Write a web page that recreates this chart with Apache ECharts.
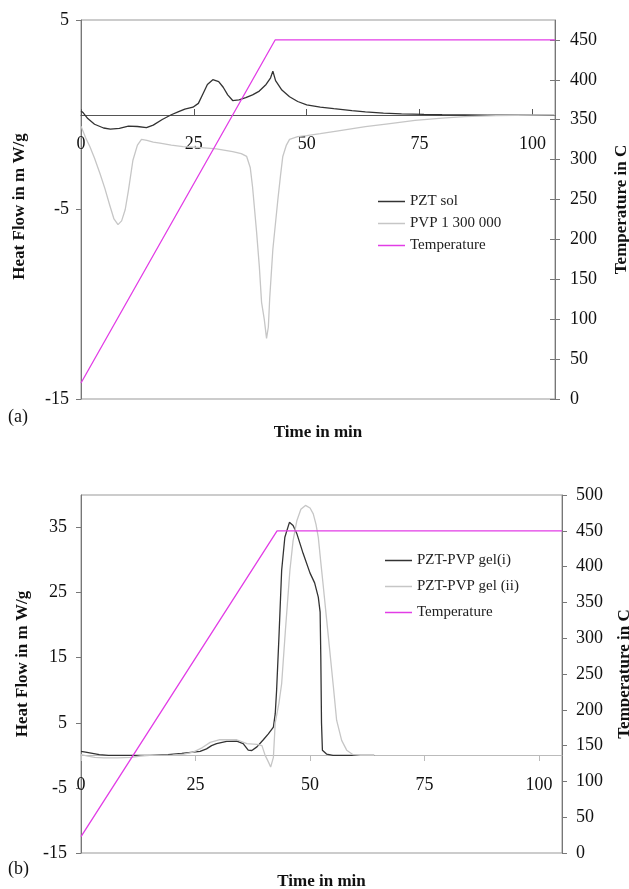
<!DOCTYPE html>
<html>
<head>
<meta charset="utf-8">
<script src="https://cdn.jsdelivr.net/npm/echarts@6/dist/echarts.min.js"></script>
<style>
  html, body { margin: 0; padding: 0; background: #fff; }
  #chart { width: 629px; height: 889px; }
</style>
</head>
<body>
<div id="chart"></div>
<script>
// x ticks shared by both panels
const timeTicks = [0, 25, 50, 75, 100];
const flowTicksA = [-15, -5, 5];
const flowTicksB = [-15, -5, 5, 15, 25, 35];
const tempTicksA = [0, 50, 100, 150, 200, 250, 300, 350, 400, 450];
const tempTicksB = [0, 50, 100, 150, 200, 250, 300, 350, 400, 450, 500];

// (a) [time in min, heat flow mW/g]
const pztSol = [
  [0, 0.2], [0.5, 0.1], [1.5, -0.2], [3, -0.5], [5, -0.7], [6.5, -0.76], [8.5, -0.72],
  [10.5, -0.6], [12.5, -0.62], [14.5, -0.68], [16, -0.55], [18, -0.25], [20, 0], [21.5, 0.15],
  [23, 0.3], [24.8, 0.4], [26, 0.6], [27, 1.1], [28, 1.6], [29.2, 1.85], [30.5, 1.75],
  [31.5, 1.45], [32.5, 1.05], [33.6, 0.75], [35, 0.78], [36.5, 0.9], [38, 1.05], [39.5, 1.25],
  [41, 1.6], [42, 1.95], [42.5, 2.3], [43.1, 1.8], [44.5, 1.3], [46.2, 0.95], [48, 0.7],
  [50, 0.52], [53, 0.4], [56, 0.32], [60, 0.22], [63, 0.15], [67, 0.09], [71, 0.05],
  [76, 0.02], [80, 0], [90, -0.02], [105, -0.02]
];
const pvp = [
  [0, -0.6], [1, -1.2], [2, -1.7], [3, -2.3], [4.2, -3.1], [5.3, -3.9], [6.4, -4.8], [7.3, -5.5],
  [8.2, -5.8], [9, -5.6], [9.8, -5.0], [10.5, -4.0], [11.5, -2.4], [12.5, -1.6], [13.4, -1.3],
  [14.6, -1.35], [16, -1.45], [17.5, -1.5], [20, -1.6], [22.6, -1.68], [26, -1.72], [30, -1.8],
  [33.6, -1.95], [35.5, -2.05], [36.7, -2.2], [37.5, -2.8], [38, -3.8], [38.9, -6.2], [39.5, -8],
  [40, -9.9], [40.6, -10.8], [41.1, -11.8], [41.5, -11.2], [41.8, -9.7], [42.5, -7.1],
  [43.6, -4.5], [44.2, -3.2], [44.7, -2.2], [45.5, -1.6], [46.2, -1.3], [48, -1.15], [50, -1.1],
  [53, -1.0], [57, -0.85], [63, -0.63], [68, -0.48], [74, -0.3], [80, -0.18], [85, -0.1],
  [92, -0.05], [105, 0]
];
// [time in min, temperature in C]
const tempA = [[0, 20], [43, 450], [105, 450]];

// (b)
const gel1 = [
  [0, 0.6], [1, 0.5], [2.5, 0.3], [4, 0.1], [6, 0], [10, 0], [15, 0], [19, 0.1], [22, 0.3],
  [24.5, 0.5], [26, 0.6], [27.4, 1.0], [28.5, 1.5], [29.6, 1.8], [31.8, 2.15], [34, 2.2],
  [35.4, 1.8], [36.5, 0.8], [37.3, 0.75], [38.4, 1.3], [39.8, 2.4], [40.9, 3.3], [42, 4.35],
  [42.4, 6.4], [42.7, 10], [43.2, 18], [43.8, 28.4], [44.5, 33.5], [45.5, 35.8], [46.3, 35.3],
  [47.1, 34.1], [48.5, 31], [50, 28], [51, 26.5], [51.8, 24.3], [52.2, 22], [52.35, 15],
  [52.5, 5], [52.7, 0.8], [53.6, 0.2], [55, 0], [64, 0]
];
const gel2 = [
  [0, 0.1], [1.5, -0.1], [3, -0.3], [5, -0.38], [8, -0.38], [11, -0.3], [13, -0.1], [15, 0],
  [20, 0.05], [22.5, 0.2], [24.5, 0.5], [26.5, 1.2], [28.2, 2.0], [30.3, 2.4], [34, 2.4],
  [36.2, 1.8], [38.4, 1.7], [39.5, 1.5], [40.2, 0], [40.9, -1.0], [41.4, -1.8], [42, -0.3],
  [42.4, 5], [43.2, 8], [43.8, 11], [44.6, 19], [45.6, 28.4], [46.3, 33], [47.1, 36], [48, 37.8],
  [49, 38.4], [50, 38], [50.7, 37.1], [51.3, 35.5], [51.8, 33.5], [52.3, 30], [52.9, 25.9],
  [54, 18.2], [55.1, 10.5], [55.8, 5.4], [56.9, 2.3], [58, 0.8], [59.4, 0.1], [61, 0], [64, 0]
];
const tempB = [[0, 23], [42.8, 450], [105, 450]];

const FONT = "Liberation Serif";
const DARK = "#333333";
const LIGHT = "#c6c6c6";
const MAGENTA = "#e23de6";

const tickLabel = { fontFamily: FONT, fontSize: 18, color: "#111" };
const axisName = { fontFamily: FONT, fontSize: 17, fontWeight: "bold", color: "#111" };

// x axis sits on the heat-flow zero line: shifted up from the grid bottom by offset
const xAxisCfg = (gridIndex, offset, lineColor, tickInside, gap, margin) => ({
  type: "value",
  gridIndex,
  min: 0,
  max: 105,
  offset,
  name: "Time in min",
  nameLocation: "middle",
  nameGap: gap,
  nameTextStyle: axisName,
  axisLine: { onZero: false, lineStyle: { color: lineColor, width: 1.2 } },
  axisTick: { inside: tickInside, length: 6, customValues: timeTicks, lineStyle: { color: lineColor } },
  axisLabel: { ...tickLabel, margin, customValues: timeTicks },
  splitLine: { show: false }
});

const line = (name, data, color, xi, yi) => ({
  name,
  type: "line",
  data,
  xAxisIndex: xi,
  yAxisIndex: yi,
  symbol: "none",
  lineStyle: { color, width: 1.3 },
  itemStyle: { color }
});

const legendCfg = (data, left, top, gap) => ({
  data,
  orient: "vertical", left, top, padding: 0, itemGap: gap,
  icon: "rect", itemWidth: 27, itemHeight: 1.5,
  textStyle: { fontFamily: FONT, fontSize: 15, color: "#222" }
});

const chart = echarts.init(document.getElementById("chart"));
chart.setOption({
  animation: false,
  backgroundColor: "#fff",
  grid: [
    { left: 81, top: 20, right: 74, bottom: 490, outerBoundsMode: "none", show: true, borderColor: "#999", borderWidth: 1 },
    { left: 81, top: 495, right: 67, bottom: 36, outerBoundsMode: "none", show: true, borderColor: "#999", borderWidth: 1 }
  ],
  legend: [
    legendCfg(["PZT sol", "PVP 1 300 000", "Temperature"], 378, 194, 7),
    legendCfg(["PZT-PVP gel(i)", "PZT-PVP gel (ii)", "Temperature"], 385, 553, 11)
  ],
  graphic: [
    { type: "text", left: 8, top: 408, style: { text: "(a)", font: "18px " + FONT, fill: "#111" } },
    { type: "text", left: 8, top: 860, style: { text: "(b)", font: "18px " + FONT, fill: "#111" } }
  ],
  xAxis: [
    xAxisCfg(0, -284, "#555", true, 309, 20),
    xAxisCfg(1, -98, "#bbb", false, 118, 21)
  ],
  yAxis: [
    { // (a) heat flow
      type: "value", gridIndex: 0, position: "left", min: -15, max: 5,
      name: "Heat Flow in m W/g", nameLocation: "middle", nameRotate: 90, nameGap: 53,
      nameTextStyle: { ...axisName, padding: [0, 0, 0, 6] },
      axisLine: { show: true, lineStyle: { color: "#777" } },
      axisTick: { show: true, length: 5, customValues: flowTicksA, lineStyle: { color: "#777" } },
      axisLabel: { ...tickLabel, margin: 12, customValues: flowTicksA },
      splitLine: { show: false }
    },
    { // (a) temperature
      type: "value", gridIndex: 0, position: "right", min: 0, max: 475,
      name: "Temperature in C", nameLocation: "middle", nameRotate: 90, nameGap: 58,
      nameTextStyle: axisName,
      axisLine: { show: true, lineStyle: { color: "#777" } },
      axisTick: { show: true, length: 5, customValues: tempTicksA, lineStyle: { color: "#777" } },
      axisLabel: { ...tickLabel, margin: 15, customValues: tempTicksA },
      splitLine: { show: false }
    },
    { // (a) inner half of the crossing ticks
      type: "value", gridIndex: 0, position: "right", min: 0, max: 475,
      axisLine: { show: false },
      axisTick: { show: true, inside: true, length: 5, customValues: tempTicksA, lineStyle: { color: "#777" } },
      axisLabel: { show: false },
      splitLine: { show: false }
    },
    { // (b) heat flow
      type: "value", gridIndex: 1, position: "left", min: -15, max: 40,
      name: "Heat Flow in m W/g", nameLocation: "middle", nameRotate: 90, nameGap: 50,
      nameTextStyle: { ...axisName, padding: [0, 0, 0, 20] },
      axisLine: { show: true, lineStyle: { color: "#777" } },
      axisTick: { show: true, length: 5, customValues: flowTicksB, lineStyle: { color: "#777" } },
      axisLabel: { ...tickLabel, margin: 14, customValues: flowTicksB },
      splitLine: { show: false }
    },
    { // (b) temperature
      type: "value", gridIndex: 1, position: "right", min: 0, max: 500,
      name: "Temperature in C", nameLocation: "middle", nameRotate: 90, nameGap: 54,
      nameTextStyle: axisName,
      axisLine: { show: true, lineStyle: { color: "#777" } },
      axisTick: { show: true, length: 5, customValues: tempTicksB, lineStyle: { color: "#777" } },
      axisLabel: { ...tickLabel, margin: 14, customValues: tempTicksB },
      splitLine: { show: false }
    }
  ],
  series: [
    line("PZT sol", pztSol, DARK, 0, 0),
    line("PVP 1 300 000", pvp, LIGHT, 0, 0),
    line("Temperature", tempA, MAGENTA, 0, 1),
    line("PZT-PVP gel(i)", gel1, DARK, 1, 3),
    line("PZT-PVP gel (ii)", gel2, LIGHT, 1, 3),
    line("Temperature", tempB, MAGENTA, 1, 4)
  ]
});
</script>
</body>
</html>
